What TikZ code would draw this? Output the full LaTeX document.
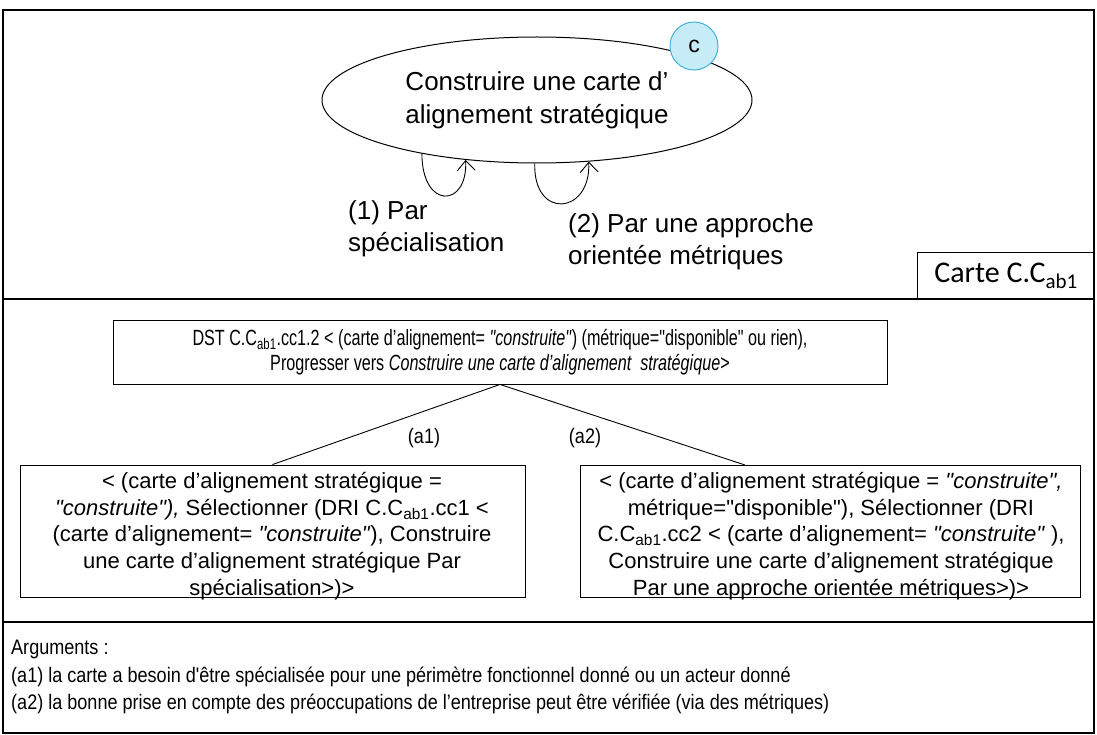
\documentclass[tikz,border=0pt]{standalone}
\usepackage{fontspec}
\setmainfont{Liberation Sans}[Ligatures=TeXOff]
\newfontfamily\carlito{Carlito}
\newfontfamily\narrowA{Liberation Sans}[FakeStretch=0.735, Ligatures=TeXOff]
\newfontfamily\narrowB{Liberation Sans}[FakeStretch=0.86, Ligatures=TeXOff]
\usetikzlibrary{shapes.geometric,arrows.meta}
\definecolor{cfill}{HTML}{C6ECF8}
\definecolor{cbord}{HTML}{3FB4D6}
\begin{document}
\begin{tikzpicture}[x=1pt,y=-1pt,
  boxtxt/.style={font=\fontsize{22}{26.6}\selectfont, align=center, inner sep=0pt},
  boxline/.style={draw, line width=0.9pt, inner sep=0pt},
  loopa/.style={line width=0.9pt, -{Straight Barb[length=10pt,width=18pt]}},
  lbl/.style={font=\fontsize{26}{32}\selectfont, align=left, inner sep=0pt},
  frameline/.style={line width=1.2pt},
  conn/.style={line width=0.9pt},
  argtxt/.style={font=\narrowB\fontsize{21}{27.5}\selectfont, inner sep=0pt}]
\useasboundingbox (0,0) rectangle (1097,735);
\draw[frameline] (3,10) rectangle (1094,733);
\draw[frameline] (3,299) -- (1094,299);
\draw[frameline] (3,622) -- (1094,622);
\node[draw, frameline, anchor=north west, minimum width=177pt, minimum height=47pt, inner sep=0pt] (carte) at (917,252) {\carlito\fontsize{30}{32}\selectfont Carte C.C\textsubscript{ab1}};

\node[ellipse, draw, line width=1pt, minimum width=430pt, minimum height=126pt, inner sep=0pt, align=center, font=\fontsize{26}{33}\selectfont] (goal) at (537,100) {Construire une carte d’\\alignement stratégique};
\node[circle, draw=cbord, fill=cfill, line width=1pt, minimum size=48pt, inner sep=0pt, font=\fontsize{23}{23}\selectfont] (c) at (694,46) {c};

\draw[loopa] (goal.205) .. controls (422,210) and (468,208) .. (goal.220);
\draw[loopa] (goal.268) .. controls (533,220) and (591,215) .. (goal.310);
\node[lbl, anchor=west] (l1) at (348,229) {(1) Par\\spécialisation};
\node[lbl, anchor=west] (l2) at (568,242) {(2) Par une approche\\orientée métriques};

\node[boxline, align=center, minimum width=774pt, minimum height=64pt, font=\narrowA\fontsize{22}{25.5}\selectfont] (dst) at (500,352) {DST C.C\textsubscript{ab1}.cc1.2 < (carte d’alignement= \textit{"construite"}) (métrique="disponible" ou rien),\\Progresser vers \textit{Construire une carte d’alignement\hspace{0.4em}stratégique}>};

\node[boxline, minimum width=505pt, minimum height=132pt] (left) at (272.5,531) {};
\node[boxtxt] (lefttxt) at (272,536) {< (carte d’alignement stratégique =\\\textit{"construite"),} Sélectionner (DRI C.C\textsubscript{ab1}.cc1 <\\(carte d’alignement= \textit{"construite"}), Construire\\une carte d’alignement stratégique Par\\spécialisation>)>};
\node[boxline, minimum width=500pt, minimum height=132pt] (right) at (830,531) {};
\node[boxtxt] (righttxt) at (831,536) {< (carte d’alignement stratégique = \textit{"construite",}\\métrique="disponible"), Sélectionner (DRI\\C.C\textsubscript{ab1}.cc2 < (carte d’alignement= \textit{"construite" }),\\Construire une carte d’alignement stratégique\\Par une approche orientée métriques>)>};

\coordinate (rend) at (745,465);
\draw[conn] (dst.south) -- (left.north);
\draw[conn] (dst.south) -- (rend);
\node[argtxt] (a1) at (424,438) {(a1)};
\node[argtxt] (a2) at (585,438) {(a2)};

\node[argtxt, anchor=west, align=left] (args) at (11,677) {Arguments :\\(a1) la carte a besoin d'être spécialisée pour une périmètre fonctionnel donné ou un acteur donné\\(a2) la bonne prise en compte des préoccupations de l’entreprise peut être vérifiée (via des métriques)};
\end{tikzpicture}
\end{document}
